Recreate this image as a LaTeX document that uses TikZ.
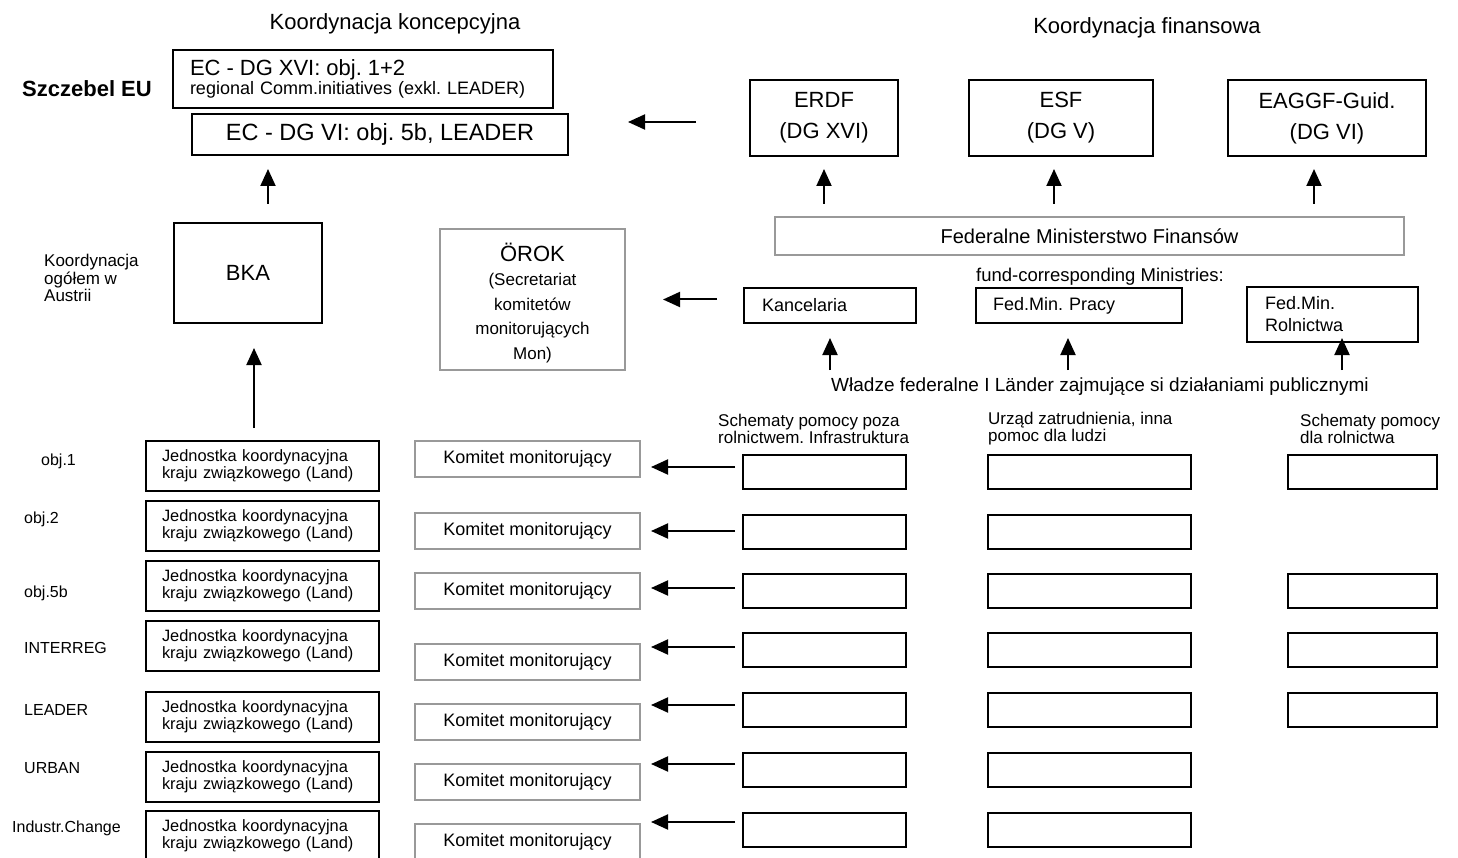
\documentclass[tikz,border=0pt]{standalone}
\usepackage{fontspec}
\setmainfont{Liberation Sans}
\usepackage{tikz}
\usetikzlibrary{arrows.meta}
\frenchspacing

\definecolor{framegray}{gray}{0.6}
\newcommand{\bigsz}{\fontsize{22}{26}\selectfont}
\newcommand{\lblsz}{\fontsize{16}{19}\selectfont}

\begin{document}
\begin{tikzpicture}[x=1pt, y=-1pt,
  blk/.style={draw, rectangle, line width=2pt, inner sep=0pt},
  gry/.style={draw=framegray, rectangle, line width=2pt, inner sep=0pt},
  txt/.style={inner sep=0pt},
  jed/.style={blk, minimum width=233pt, minimum height=50pt, inner xsep=16pt, text width=201pt, align=left, font=\fontsize{16.4}{17}\selectfont},
  kom/.style={gry, minimum width=225pt, minimum height=36pt, font=\fontsize{18}{22}\selectfont},
  cel/.style={blk, minimum height=34pt},
  arr/.style={-{Triangle[length=17pt,width=15pt]}, line width=2pt}]
\useasboundingbox (0,0) rectangle (1458,858);

\node [txt, font=\bigsz] (tkonc) at (395,24) {Koordynacja koncepcyjna};
\node [txt, font=\bigsz] (tfin) at (1147,28) {Koordynacja finansowa};
\node [txt, font=\bfseries\bigsz] (eu) at (87,89) {Szczebel EU};

%% EU level
\node [blk, minimum width=380pt, minimum height=58pt, inner xsep=17pt, text width=346pt, align=left, font=\fontsize{18}{17}\selectfont] (ecxvi) at (363,79) {{\bigsz EC - DG XVI: obj. 1+2}\\regional Comm.initiatives (exkl. LEADER)};
\node [blk, minimum width=376pt, minimum height=41pt, font=\fontsize{23.5}{28}\selectfont] (ecvi) at (380,134.5) {EC - DG VI: obj. 5b, LEADER};

\node [blk, minimum width=148pt, minimum height=76pt, align=center, font=\fontsize{22}{31}\selectfont] (erdf) at (824,118) {ERDF\\(DG XVI)};
\node [blk, minimum width=184pt, minimum height=76pt, align=center, font=\fontsize{22}{31}\selectfont] (esf) at (1061,118) {ESF\\(DG V)};
\node [blk, minimum width=198pt, minimum height=76pt, align=center, font=\fontsize{22}{31}\selectfont] (eaggf) at (1327,118) {EAGGF-Guid.\\(DG VI)};

\coordinate (eufree) at (696,122);
\draw [arr, shorten >=59pt] (eufree) to (eufree -| ecvi.east);

%% Austria
\node [gry, minimum width=629pt, minimum height=38pt, font=\fontsize{20}{24}\selectfont] (fmf) at (1089.5,236) {Federalne Ministerstwo Finansów};
\draw [arr, shorten <=12pt, shorten >=12pt] (erdf.south |- fmf.north) to (erdf.south);
\draw [arr, shorten <=12pt, shorten >=12pt] ([xshift=-7pt]esf.south |- fmf.north) to ([xshift=-7pt]esf.south);
\draw [arr, shorten <=12pt, shorten >=12pt] ([xshift=-13pt]eaggf.south |- fmf.north) to ([xshift=-13pt]eaggf.south);

\node [blk, minimum width=148pt, minimum height=100pt, font=\bigsz] (bka) at (248,273) {BKA};
\draw [arr, shorten <=18pt, shorten >=13pt] ([xshift=20pt]bka.north) to ([xshift=20pt]bka.north |- ecvi.south);
\node [txt, anchor=west, align=left, font=\fontsize{17}{17.5}\selectfont] (ogolem) at (44,278) {Koordynacja\\ogółem w\\Austrii};

\node [gry, minimum width=185pt, minimum height=141pt] (orok) at (532.5,299.5) {};
\node [txt, align=center, font=\fontsize{17}{24.5}\selectfont] (oroktxt) at (532.5,303) {{\bigsz ÖROK}\\(Secretariat\\komitetów\\monitorujących\\Mon)};

\node [txt, font=\fontsize{18.5}{22}\selectfont] (fundc) at (1100,277) {fund-corresponding Ministries:};
\node [blk, minimum width=172pt, minimum height=35pt, inner xsep=18pt, text width=136pt, align=left, font=\fontsize{18}{22}\selectfont] (kanc) at (830,305.5) {Kancelaria};
\node [blk, minimum width=206pt, minimum height=35pt, inner xsep=17pt, text width=172pt, align=left, font=\fontsize{18}{22}\selectfont] (pracy) at (1079,305.5) {Fed.Min. Pracy};
\node [blk, minimum width=171pt, minimum height=55pt, inner xsep=18pt, text width=135pt, align=left, font=\fontsize{18}{22}\selectfont] (rol) at (1332.5,314.5) {Fed.Min.\\Rolnictwa};
\draw [arr, shorten <=26pt, shorten >=37pt] (kanc.west |- orok.east) to (orok.east);

\node [txt, font=\fontsize{19}{23}\selectfont] (wladze) at (1100,387) {Władze federalne I Länder zajmujące si działaniami publicznymi};
\coordinate (wtop) at (1100,370);
\draw [arr, shorten >=14pt] (kanc.south |- wtop) to (kanc.south);
\draw [arr, shorten >=14pt] ([xshift=-11pt]pracy.south |- wtop) to ([xshift=-11pt]pracy.south);
\draw [arr, shorten >=-5pt] ([xshift=9.5pt]rol.south |- wtop) to ([xshift=9.5pt]rol.south);

\node [txt, anchor=west, align=left, font=\fontsize{17}{17}\selectfont] (hinfra) at (718,428.5) {Schematy pomocy poza\\rolnictwem. Infrastruktura};
\node [txt, anchor=west, align=left, font=\fontsize{17}{17}\selectfont] (hpraca) at (988,428.5) {Urząd zatrudnienia, inna\\pomoc dla ludzi};
\node [txt, anchor=west, align=left, font=\fontsize{17}{17}\selectfont] (hrol) at (1300,428.5) {Schematy pomocy\\dla rolnictwa};

%% programmes
\node [txt, anchor=west, font=\lblsz] (lob1) at (41,461) {obj.1};
\node [txt, anchor=west, font=\lblsz] (lob2) at (24,519) {obj.2};
\node [txt, anchor=west, font=\lblsz] (lob5) at (24,593) {obj.5b};
\node [txt, anchor=west, font=\lblsz] (lint) at (24,648) {INTERREG};
\node [txt, anchor=west, font=\lblsz] (llea) at (24,710) {LEADER};
\node [txt, anchor=west, font=\lblsz] (lurb) at (24,768) {URBAN};
\node [txt, anchor=west, font=\lblsz] (lind) at (12,828) {Industr.Change};

\node [jed] (j1) at (262.5,466) {Jednostka koordynacyjna\\kraju związkowego (Land)};
\node [jed] (j2) at (262.5,526) {Jednostka koordynacyjna\\kraju związkowego (Land)};
\node [jed] (j3) at (262.5,586) {Jednostka koordynacyjna\\kraju związkowego (Land)};
\node [jed] (j4) at (262.5,645.5) {Jednostka koordynacyjna\\kraju związkowego (Land)};
\node [jed] (j5) at (262.5,717) {Jednostka koordynacyjna\\kraju związkowego (Land)};
\node [jed] (j6) at (262.5,777) {Jednostka koordynacyjna\\kraju związkowego (Land)};
\node [jed] (j7) at (262.5,836) {Jednostka koordynacyjna\\kraju związkowego (Land)};
\draw [arr, shorten <=12pt, shorten >=24pt] ([xshift=6pt]bka.south |- j1.north) to ([xshift=6pt]bka.south);

\node [kom] (k1) at (527.5,459) {Komitet monitorujący};
\node [kom] (k2) at (527.5,530.5) {Komitet monitorujący};
\node [kom] (k3) at (527.5,590.5) {Komitet monitorujący};
\node [kom] (k4) at (527.5,661.5) {Komitet monitorujący};
\node [kom] (k5) at (527.5,721.5) {Komitet monitorujący};
\node [kom] (k6) at (527.5,781.5) {Komitet monitorujący};
\node [kom] (k7) at (527.5,841.5) {Komitet monitorujący};

\node [cel, minimum width=163pt] (a1) at (824.5,472) {};
\node [cel, minimum width=163pt] (a2) at (824.5,532) {};
\node [cel, minimum width=163pt] (a3) at (824.5,591) {};
\node [cel, minimum width=163pt] (a4) at (824.5,650) {};
\node [cel, minimum width=163pt] (a5) at (824.5,710) {};
\node [cel, minimum width=163pt] (a6) at (824.5,770) {};
\node [cel, minimum width=163pt] (a7) at (824.5,830) {};
\node [cel, minimum width=203pt] (b1) at (1089.5,472) {};
\node [cel, minimum width=203pt] (b2) at (1089.5,532) {};
\node [cel, minimum width=203pt] (b3) at (1089.5,591) {};
\node [cel, minimum width=203pt] (b4) at (1089.5,650) {};
\node [cel, minimum width=203pt] (b5) at (1089.5,710) {};
\node [cel, minimum width=203pt] (b6) at (1089.5,770) {};
\node [cel, minimum width=203pt] (b7) at (1089.5,830) {};
\node [cel, minimum width=149pt] (c1) at (1362.5,472) {};
\node [cel, minimum width=149pt] (c3) at (1362.5,591) {};
\node [cel, minimum width=149pt] (c4) at (1362.5,650) {};
\node [cel, minimum width=149pt] (c5) at (1362.5,710) {};

\draw [arr, shorten <=7pt, shorten >=10pt] (a1.west |- 0,467) to (k1.east |- 0,467);
\draw [arr, shorten <=7pt, shorten >=10pt] (a2.west |- 0,531) to (k2.east |- 0,531);
\draw [arr, shorten <=7pt, shorten >=10pt] (a3.west |- 0,588) to (k3.east |- 0,588);
\draw [arr, shorten <=7pt, shorten >=10pt] (a4.west |- 0,647) to (k4.east |- 0,647);
\draw [arr, shorten <=7pt, shorten >=10pt] (a5.west |- 0,705) to (k5.east |- 0,705);
\draw [arr, shorten <=7pt, shorten >=10pt] (a6.west |- 0,764) to (k6.east |- 0,764);
\draw [arr, shorten <=7pt, shorten >=10pt] (a7.west |- 0,822) to (k7.east |- 0,822);

\end{tikzpicture}
\end{document}
